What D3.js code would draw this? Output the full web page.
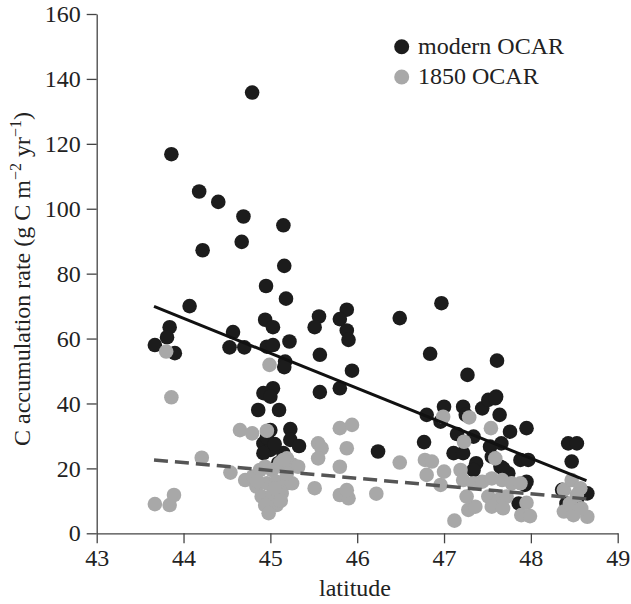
<!DOCTYPE html>
<html lang="en">
<head>
<meta charset="UTF-8">
<title>OCAR vs latitude</title>
<style>
  body { margin: 0; background: #fff; }
  svg text { font-family: "Liberation Serif", "Times New Roman", serif; fill: #222; }
  .axis path, .axis line { stroke: #444; stroke-width: 1.3; }
</style>
</head>
<body>
<svg id="chart" width="631" height="604"></svg>
<script src="https://cdn.jsdelivr.net/npm/d3@7"></script>
<script>
// modern OCAR (black)
const modernLat = [44.79, 43.86, 44.18, 44.40, 44.69, 45.15, 44.67, 44.22, 45.16, 44.95,
  45.18, 44.07, 45.88, 45.56, 45.80, 44.94, 45.03, 45.51, 45.88, 43.84,
  44.57, 43.81, 43.67, 43.90, 44.53, 44.70, 44.96, 45.03, 45.22, 45.17,
  45.16, 45.57, 45.94, 45.80, 45.57, 45.90, 45.03, 44.92, 45.00, 44.86,
  45.10, 45.00, 45.23, 45.23, 45.33, 44.92, 45.00, 44.92, 45.15, 45.09,
  46.24, 46.49, 46.97, 46.84, 47.27, 47.61, 46.80, 47.00, 47.22, 47.25,
  47.44, 47.51, 47.60, 47.64, 47.76, 47.95, 46.96, 46.77, 47.15, 47.34,
  47.11, 47.22, 47.37, 47.34, 47.53, 47.55, 47.66, 47.65, 47.74, 47.88,
  47.97, 47.95, 47.86, 48.43, 48.53, 48.47, 48.36, 48.65, 48.41, 48.53,
  44.96, 45.05, 47.59, 47.68, 47.93];
const modernVal = [135.8, 116.8, 105.3, 102.1, 97.6, 94.9, 89.8, 87.2, 82.4, 76.2,
  72.3, 70.0, 68.9, 66.8, 66.0, 65.8, 63.5, 63.5, 62.5, 63.5,
  62.0, 60.4, 58.0, 55.5, 57.3, 57.3, 57.5, 58.0, 59.1, 52.9,
  51.2, 55.0, 50.1, 44.7, 43.5, 59.6, 44.7, 43.2, 42.1, 38.0,
  38.0, 31.8, 32.1, 28.8, 26.9, 27.7, 25.7, 24.7, 24.7, 21.6,
  25.2, 66.3, 70.9, 55.3, 48.8, 53.2, 36.5, 39.0, 39.0, 36.5,
  38.5, 41.1, 42.1, 36.5, 31.3, 32.4, 34.4, 28.1, 30.6, 29.8,
  24.7, 24.7, 21.6, 19.5, 26.7, 23.6, 27.7, 20.5, 18.5, 22.6,
  22.6, 15.9, 9.2, 27.7, 27.7, 22.1, 13.4, 12.3, 9.2, 10.3,
  29.5, 27.5, 41.6, 20.0, 14.9];

// 1850 OCAR (grey)
const histLat = [43.67, 43.84, 43.89, 43.80, 43.86, 44.21, 44.54, 44.65, 44.79, 44.96,
  44.99, 44.71, 44.80, 44.88, 44.94, 45.02, 45.11, 45.19, 45.26, 45.32,
  44.84, 44.96, 45.07, 45.19, 45.25, 44.90, 45.02, 45.13, 44.94, 45.07,
  44.98, 45.19, 45.15, 45.55, 45.59, 45.55, 45.51, 45.80, 45.94, 45.88,
  45.80, 45.80, 45.90, 45.88, 46.22, 46.49, 46.78, 46.86, 46.80, 47.00,
  46.96, 46.99, 47.29, 47.54, 47.23, 47.59, 47.12, 47.28, 47.36, 47.19,
  47.22, 47.34, 47.44, 47.55, 47.67, 47.78, 47.88, 47.51, 47.63, 47.72,
  47.55, 47.68, 47.95, 47.89, 47.99, 47.26, 48.38, 48.47, 48.57, 48.38,
  48.49, 48.65, 48.45, 48.58, 48.53, 45.05, 45.12, 44.85];
const histVal = [9.0, 8.7, 11.8, 56.0, 41.9, 23.3, 18.7, 31.8, 30.8, 31.6,
  51.9, 16.4, 17.5, 19.5, 20.5, 19.5, 21.6, 23.1, 21.1, 20.5,
  14.4, 15.4, 15.9, 15.4, 15.4, 11.3, 11.8, 12.3, 8.7, 8.7,
  6.2, 18.5, 22.6, 27.7, 26.2, 23.1, 13.9, 32.4, 33.4, 26.2,
  20.5, 11.8, 10.8, 13.3, 12.2, 21.8, 22.6, 22.1, 18.0, 19.0,
  14.9, 35.9, 35.7, 32.4, 28.2, 23.1, 3.9, 7.2, 8.2, 19.5,
  16.4, 15.4, 15.9, 16.9, 16.4, 15.4, 15.4, 11.3, 10.3, 11.3,
  8.2, 7.7, 9.4, 5.6, 5.3, 11.3, 13.4, 16.4, 13.9, 6.7,
  5.6, 5.1, 9.2, 7.7, 11.8, 13.8, 10.0, 16.0];

// regression line end points
const fitLat = [43.66, 48.64];
const modernFit = [69.9, 16.2];
const histFit = [22.6, 10.6];

const xTicks = [43, 44, 45, 46, 47, 48, 49];
const yTicks = [0, 20, 40, 60, 80, 100, 120, 140, 160];

const svg = d3.select("#chart");
const serif = "Liberation Serif, Times New Roman, serif";

const x = d3.scaleLinear().domain([43, 49]).range([96.7, 617.7]);
const y = d3.scaleLinear().domain([0, 160]).range([533.3, 14]);

const xAxis = svg.append("g")
  .attr("class", "axis")
  .attr("transform", "translate(0,533.3)")
  .call(d3.axisBottom(x).tickValues(xTicks).tickFormat(d3.format("d"))
    .tickSize(10).tickSizeOuter(0).tickPadding(6));

const yAxis = svg.append("g")
  .attr("class", "axis")
  .attr("transform", "translate(96.7,0)")
  .call(d3.axisLeft(y).tickValues(yTicks).tickFormat(d3.format("d"))
    .tickSize(10).tickSizeOuter(0).tickPadding(6));

svg.selectAll(".axis text")
  .style("font-family", serif)
  .style("font-size", "24px")
  .style("fill", "#222");

const black = "#1c1c1c";
const grey = "#a8a8a8";
const r = 7.3;

svg.append("g").selectAll("circle")
  .data(modernLat.map((d, i) => [d, modernVal[i]]))
  .join("circle")
  .attr("cx", d => x(d[0]))
  .attr("cy", d => y(d[1]))
  .attr("r", r)
  .attr("fill", black);

svg.append("g").selectAll("circle")
  .data(histLat.map((d, i) => [d, histVal[i]]))
  .join("circle")
  .attr("cx", d => x(d[0]))
  .attr("cy", d => y(d[1]))
  .attr("r", r)
  .attr("fill", grey);

const line = d3.line().x(d => x(d[0])).y(d => y(d[1]));

svg.append("path")
  .datum(fitLat.map((d, i) => [d, modernFit[i]]))
  .attr("d", line)
  .attr("fill", "none")
  .attr("stroke", "#111")
  .attr("stroke-width", 3);

svg.append("path")
  .datum(fitLat.map((d, i) => [d, histFit[i]]))
  .attr("d", line)
  .attr("fill", "none")
  .attr("stroke", "#555")
  .attr("stroke-width", 3.5)
  .attr("stroke-dasharray", "14,7");

// legend
const legend = [["modern OCAR", black], ["1850 OCAR", grey]];
legend.forEach((l, i) => {
  svg.append("circle").attr("cx", 401.7).attr("cy", 46.7 + i * 30.3).attr("r", 7.5).attr("fill", l[1]);
  svg.append("text").attr("x", 418).attr("y", 53.5 + i * 30.3)
    .style("font-family", serif).style("font-size", "24px").text(l[0]);
});

// axis titles
svg.append("text")
  .attr("x", 355).attr("y", 596)
  .attr("text-anchor", "middle")
  .style("font-family", serif).style("font-size", "24px")
  .text("latitude");

const yt = svg.append("text")
  .attr("transform", "translate(30,279) rotate(-90)")
  .attr("text-anchor", "middle")
  .style("font-family", serif).style("font-size", "24px");
yt.append("tspan").text("C accumulation rate (g C m");
yt.append("tspan").attr("dy", -9).style("font-size", "16px").text("\u22122");
yt.append("tspan").attr("dy", 9).text(" yr");
yt.append("tspan").attr("dy", -9).style("font-size", "16px").text("\u22121");
yt.append("tspan").attr("dy", 9).text(")");
</script>
</body>
</html>
